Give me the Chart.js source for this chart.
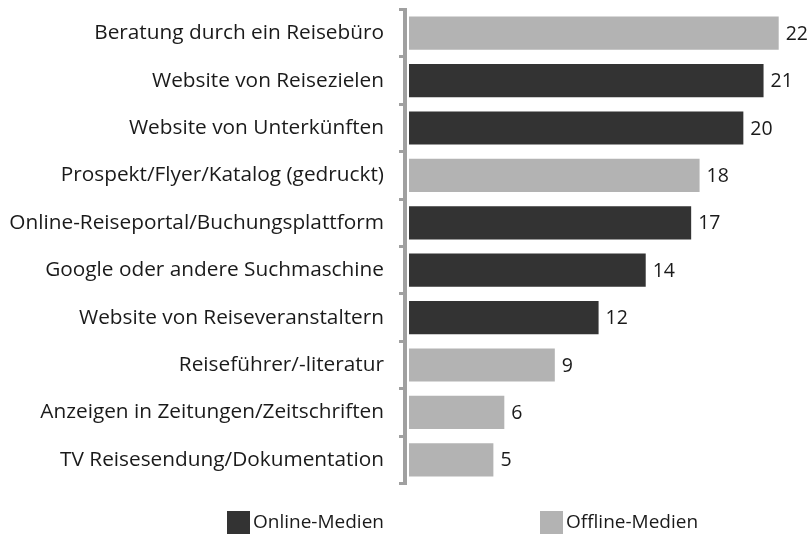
<!DOCTYPE html>
<html>
<head>
<meta charset="utf-8">
<script src="https://cdn.jsdelivr.net/npm/chart.js@4/dist/chart.umd.min.js"></script>
<style>
html,body{margin:0;padding:0;background:#fff;}
#wrap{width:810px;height:535px;position:relative;}
</style>
</head>
<body>
<div id="wrap"><canvas id="c" width="810" height="535"></canvas></div>
<script>
const categories = [
  'Beratung durch ein Reisebüro',
  'Website von Reisezielen',
  'Website von Unterkünften',
  'Prospekt/Flyer/Katalog (gedruckt)',
  'Online-Reiseportal/Buchungsplattform',
  'Google oder andere Suchmaschine',
  'Website von Reiseveranstaltern',
  'Reiseführer/-literatur',
  'Anzeigen in Zeitungen/Zeitschriften',
  'TV Reisesendung/Dokumentation'
];
const onlineValues  = [null, 21.3, 20.1, null, 17.0, 14.3, 11.5, null, null, null];
const offlineValues = [22.2, null, null, 17.5, null, null, null, 8.9, 5.9, 5.25];
const seriesNames = ['Online-Medien', 'Offline-Medien'];

const DARK = '#333333';
const LIGHT = '#b3b3b3';
const AXIS = '#a0a0a0';
const TEXT = '#1a1a1a';
const FONT = '"Open Sans", "DejaVu Sans", sans-serif';
const LABEL_SIZE = 20.8;
const VALUE_SIZE = 19.5;
const LEGEND_SIZE = 19;

const axisGap = {
  id: 'axisGap',
  afterDatasetsDraw(chart) {
    const {ctx, chartArea} = chart;
    const h = chartArea.bottom - chartArea.top;
    ctx.save();
    ctx.fillStyle = '#ffffff';
    ctx.fillRect(chartArea.left + 2, chartArea.top, 2, h);
    ctx.fillStyle = AXIS;
    ctx.fillRect(chartArea.left - 2, chartArea.top, 4, h);
    ctx.restore();
  }
};

const valueLabels = {
  id: 'valueLabels',
  afterDatasetsDraw(chart) {
    const ctx = chart.ctx;
    ctx.save();
    ctx.font = VALUE_SIZE + 'px ' + FONT;
    ctx.fillStyle = TEXT;
    ctx.textAlign = 'left';
    ctx.textBaseline = 'middle';
    chart.data.datasets.forEach((ds, di) => {
      const meta = chart.getDatasetMeta(di);
      meta.data.forEach((bar, i) => {
        const v = ds.data[i];
        if (v === null || v === undefined) return;
        ctx.fillText(String(Math.round(v)), bar.x + 7, bar.y + 1);
      });
    });
    ctx.restore();
  }
};

const customLegend = {
  id: 'customLegend',
  afterDraw(chart) {
    const ctx = chart.ctx;
    const xs = [227, 540];
    const y = 511;
    ctx.save();
    ctx.font = LEGEND_SIZE + 'px ' + FONT;
    ctx.textBaseline = 'middle';
    ctx.textAlign = 'left';
    chart.data.datasets.forEach((ds, i) => {
      ctx.fillStyle = ds.backgroundColor;
      ctx.fillRect(xs[i], y, 23, 23);
      ctx.fillStyle = TEXT;
      ctx.fillText(ds.label, xs[i] + 26, y + 12);
    });
    ctx.restore();
  }
};

function draw() {
  new Chart(document.getElementById('c'), {
    type: 'bar',
    data: {
      labels: categories,
      datasets: [
        { label: seriesNames[0], data: onlineValues, backgroundColor: DARK,
          barPercentage: 0.7, categoryPercentage: 1 },
        { label: seriesNames[1], data: offlineValues, backgroundColor: LIGHT,
          barPercentage: 0.7, categoryPercentage: 1 }
      ]
    },
    options: {
      indexAxis: 'y',
      responsive: false,
      animation: false,
      layout: { padding: { top: 9.5, right: 1, bottom: 51.5, left: 0 } },
      plugins: { legend: { display: false }, tooltip: { enabled: false } },
      scales: {
        x: { display: false, stacked: true, min: 0, max: 24 },
        y: {
          stacked: true,
          offset: true,
          border: { display: true, color: AXIS, width: 4 },
          grid: { offset: true, drawOnChartArea: false, drawTicks: true,
                  tickLength: 6, color: AXIS, lineWidth: 3 },
          ticks: { color: TEXT, padding: 15, font: { family: FONT, size: LABEL_SIZE } },
          afterFit(scale) {
            scale.width = 405;
            scale.paddingTop = 0;
            scale.paddingBottom = 0;
          }
        }
      }
    },
    plugins: [axisGap, valueLabels, customLegend]
  });
}
if (document.fonts && document.fonts.load) {
  document.fonts.load(LABEL_SIZE + 'px "Open Sans"').then(draw, draw);
} else { draw(); }
</script>
</body>
</html>
